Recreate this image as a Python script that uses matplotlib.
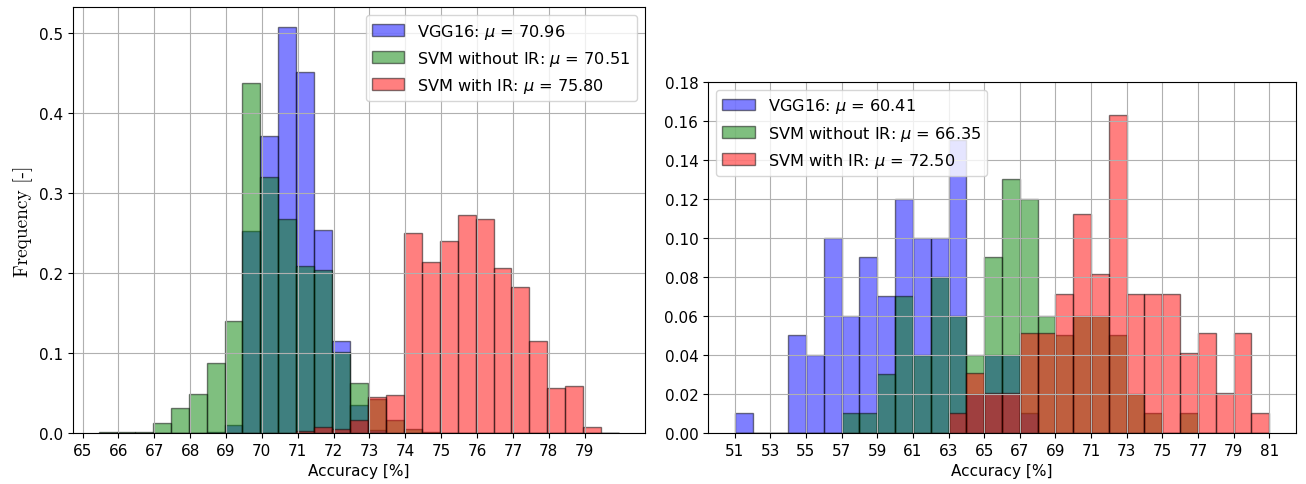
import numpy as np
import matplotlib.pyplot as plt

################################### DATA ###################################
# left panel: bins of width 0.5 starting at 65.46 (29 bins)
left_edges = 65.46 + 0.5 * np.arange(30)
left_vgg = [0, 0, 0, 0, 0, 0, 0.001, 0.01, 0.252, 0.371, 0.507, 0.451, 0.254,
            0.115, 0.035, 0.004, 0, 0, 0, 0, 0, 0, 0, 0, 0, 0, 0, 0, 0]
left_svm = [0.0015, 0.0015, 0.0015, 0.013, 0.031, 0.049, 0.087, 0.14, 0.437, 0.32,
            0.268, 0.209, 0.204, 0.101, 0.063, 0.0425, 0.0167, 0.0054, 0.001,
            0, 0, 0, 0, 0, 0, 0, 0, 0, 0]
left_svm_ir = [0, 0, 0, 0, 0, 0, 0, 0, 0, 0, 0, 0.002, 0.0075, 0.0054, 0.0167,
               0.0454, 0.0475, 0.25, 0.214, 0.24, 0.2725, 0.268, 0.206, 0.182,
               0.115, 0.056, 0.059, 0.0075, 0]
left_means = [70.96, 70.51, 75.80]

# right panel: bins of width 1 from 51 to 81
right_edges = np.arange(51, 82)
right_vgg = [0.01, 0, 0, 0.05, 0.04, 0.10, 0.06, 0.09, 0.07, 0.12, 0.10, 0.10, 0.15,
             0.02, 0.04, 0.04, 0.01, 0, 0, 0, 0, 0, 0, 0, 0, 0, 0, 0, 0, 0]
right_svm = [0, 0, 0, 0, 0, 0, 0.01, 0.01, 0.03, 0.07, 0.04, 0.08, 0.06, 0.04, 0.09,
             0.13, 0.12, 0.06, 0.05, 0.06, 0.06, 0.05, 0.02, 0.01, 0, 0.01, 0, 0, 0, 0]
right_svm_ir_counts = [0, 0, 0, 0, 0, 0, 0, 0, 0, 0, 0, 0, 1, 3, 2, 2, 5, 5, 7, 11,
                       8, 16, 7, 7, 7, 4, 5, 2, 5, 1]
right_svm_ir = [c / 98 for c in right_svm_ir_counts]
right_means = [60.41, 66.35, 72.50]

names = ['VGG16', 'SVM without IR', 'SVM with IR']
colors = ['blue', 'green', 'red']

################################### PLOT ###################################
plt.rcParams['font.size'] = 11
fig = plt.figure(figsize=(13.06, 4.85), dpi=100)
ax1 = fig.add_axes([0.0559, 0.1052, 0.438, 0.878])
ax2 = fig.add_axes([0.5421, 0.1052, 0.4502, 0.7237])


def draw_hists(ax, edges, series, means):
    centers = (edges[:-1] + edges[1:]) / 2
    for vals, name, col, mu in zip(series, names, colors, means):
        ax.hist(centers, bins=edges, weights=vals, color=col, alpha=0.5,
                edgecolor='black', linewidth=1.0,
                label=name + r': $\mu$ = %.2f' % mu)
    ax.grid(True)
    ax.set_xlabel('Accuracy [%]')


draw_hists(ax1, left_edges, [left_vgg, left_svm, left_svm_ir], left_means)
ax1.set_xticks(np.arange(65, 80))
ax1.set_xlim(64.735, 80.685)
ax1.set_ylabel('Frequency [-]', fontfamily='cmr10', fontsize=14)
ax1.legend(loc='upper right', fontsize=11.6)

draw_hists(ax2, right_edges, [right_vgg, right_svm, right_svm_ir], right_means)
ax2.set_xticks(np.arange(51, 82, 2))
ax2.set_ylim(0, 0.18)
ax2.set_yticks(np.arange(0, 0.181, 0.02))
ax2.legend(loc='upper left', fontsize=11.6)

fig.savefig('out.png', dpi=100)
